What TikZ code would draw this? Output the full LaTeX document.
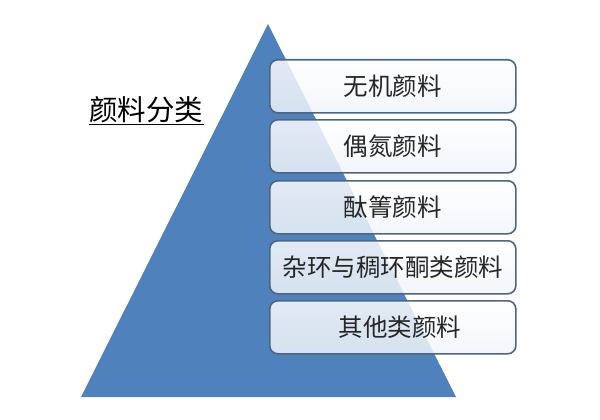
\documentclass[tikz,border=0pt]{standalone}
\usepackage{fontspec}
\newfontfamily\cjk{Noto Sans CJK SC}
\definecolor{triblue}{HTML}{4F81BD}
\definecolor{boxline}{HTML}{4D6680}
\definecolor{boxbot}{HTML}{F0F4F9}
\tikzset{
  catbox/.style={draw=boxline, line width=1.6pt, rounded corners=8pt,
    top color=white, bottom color=boxbot, fill opacity=0.84, text opacity=1,
    minimum width=246pt, minimum height=53pt, anchor=north west, inner sep=0pt,
    font=\cjk\fontsize{24.5}{27}\selectfont, text=black!85},
  title/.style={font=\cjk\fontsize{28.5}{31}\selectfont, text=black, inner sep=0pt}
}
\begin{document}
\begin{tikzpicture}[x=1pt,y=-1pt]
\useasboundingbox (0,0) rectangle (600,420);
\fill[triblue] (268,24) coordinate (apex) -- (456,397) coordinate (br) -- (81,397) coordinate (bl) -- cycle;
\node[catbox] (b1) at (269,59) {无机颜料};
\node[catbox] (b2) at (269,119) {偶氮颜料};
\node[catbox] (b3) at (269,180) {酞箐颜料};
\node[catbox] (b4) at (269,240) {杂环与稠环酮类颜料};
\node[catbox] (b5) at (269,300) {\hspace{14pt}其他类颜料};
\node[title, anchor=west] (t) at (89,110) {颜料分类};
\draw[line width=1.2pt] (89,124.5) coordinate (u1) -- (204,124.5) coordinate (u2);
\end{tikzpicture}
\end{document}
